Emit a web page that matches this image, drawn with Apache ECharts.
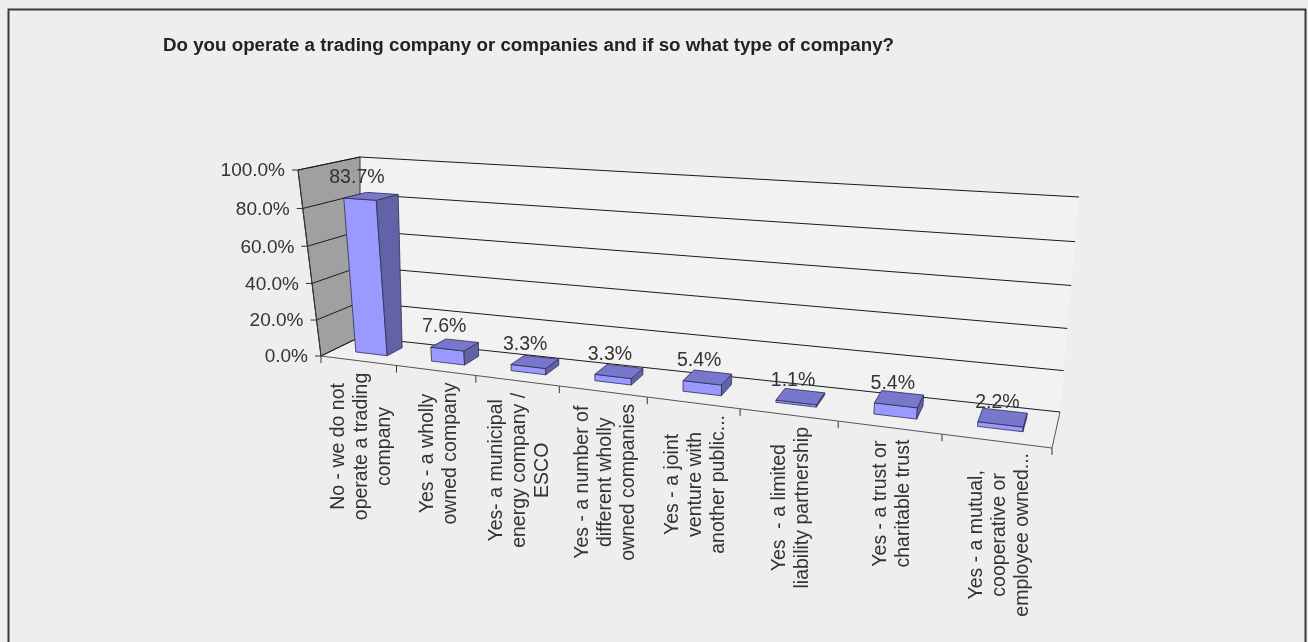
<!DOCTYPE html>
<html>
<head>
<meta charset="utf-8">
<script src="https://cdn.jsdelivr.net/npm/echarts@6/dist/echarts.min.js"></script>
<style>
  html, body { margin: 0; padding: 0; background: #eeeeee; }
  #chart { width: 1308px; height: 642px; }
</style>
</head>
<body>
<div id="chart"></div>
<script>
// ---- data ----
const title = 'Do you operate a trading company or companies and if so what type of company?';
const categories = [
  'No - we do not\noperate a trading\ncompany',
  'Yes - a wholly\nowned company',
  'Yes- a municipal\nenergy company /\nESCO',
  'Yes - a number of\ndifferent wholly\nowned companies',
  'Yes - a joint\nventure with\nanother public...',
  'Yes  - a limited\nliability partnership',
  'Yes - a trust or\ncharitable trust',
  'Yes - a mutual,\ncooperative or\nemployee owned...'
];
const values = [83.7, 7.6, 3.3, 3.3, 5.4, 1.1, 5.4, 2.2];
const valueTicks = [0, 20, 40, 60, 80, 100];
const tickLabels = ['0.0%', '20.0%', '40.0%', '60.0%', '80.0%', '100.0%'];

// ---- 3-D look ----
// Screen anchors of the plot box used to fit a perspective camera.
// Each entry: [X in category units, Y as axis fraction, Z (0 front, 1 back), screen x, screen y, weight]
const frameAnchors = [
  [0, 0, 0, 321, 356, 4], [0, 0, 1, 360, 337, 4], [0, 1, 0, 298, 170, 4], [0, 1, 1, 360, 157, 4],
  [8, 0, 0, 1052, 448, 4], [8, 0, 1, 1060, 412, 4], [8, 1, 1, 1079, 197, 4],
  [1, 0, 0, 397, 365.6, 1], [2, 0, 0, 474, 375.3, 1], [3, 0, 0, 558, 385.9, 1], [4, 0, 0, 645, 396.8, 1],
  [5, 0, 0, 738, 408.5, 1], [6, 0, 0, 836, 420.9, 1], [7, 0, 0, 941, 434.1, 1],
  [8, 0.2, 1, 1064, 371, 1], [8, 0.4, 1, 1068, 329, 1], [8, 0.6, 1, 1072, 287, 1], [8, 0.8, 1, 1076, 243, 1],
  [0, 0.2, 0, 316.4, 322, 1], [0, 0.4, 0, 311.8, 285, 1], [0, 0.6, 0, 307.2, 247, 1], [0, 0.8, 0, 302.6, 210, 1]
];
const BAR_HALF = 0.21;     // half bar width, category units
const BAR_Z0 = 0.33, BAR_Z1 = 0.73;
const FONT = '"Liberation Sans", Arial, sans-serif';
const TEXT = '#333333';

// Weighted least-squares fit of a 3x4 projective camera (DLT) to the anchors,
// followed by a trilinear correction so the box corners land exactly.
function fitCamera(pts, nCat) {
  const cu = 680, cv = 300, s = 400;
  const n = 11;
  const M = Array.from({ length: n }, () => new Array(n + 1).fill(0));
  const addRow = (row, rhs, w) => {
    for (let i = 0; i < n; i++) {
      for (let j = 0; j < n; j++) M[i][j] += w * row[i] * row[j];
      M[i][n] += w * row[i] * rhs;
    }
  };
  pts.forEach(([X, Y, Z, u, v, w]) => {
    const x = X / nCat, uu = (u - cu) / s, vv = (v - cv) / s;
    addRow([x, Y, Z, 1, 0, 0, 0, 0, -uu * x, -uu * Y, -uu * Z], uu, w);
    addRow([0, 0, 0, 0, x, Y, Z, 1, -vv * x, -vv * Y, -vv * Z], vv, w);
  });
  for (let c = 0; c < n; c++) {
    let p = c;
    for (let r = c + 1; r < n; r++) if (Math.abs(M[r][c]) > Math.abs(M[p][c])) p = r;
    [M[c], M[p]] = [M[p], M[c]];
    for (let r = 0; r < n; r++) {
      if (r === c) continue;
      const f = M[r][c] / M[c][c];
      for (let k = c; k <= n; k++) M[r][k] -= f * M[c][k];
    }
  }
  const q = M.map((row, i) => row[n] / row[i]);
  const cam = (X, Y, Z) => {
    const x = X / nCat;
    const w = q[8] * x + q[9] * Y + q[10] * Z + 1;
    return [
      (q[0] * x + q[1] * Y + q[2] * Z + q[3]) / w * s + cu,
      (q[4] * x + q[5] * Y + q[6] * Z + q[7]) / w * s + cv
    ];
  };
  // residuals at the box corners (index: x*4 + y*2 + z)
  const res = new Array(8).fill(null).map(() => [0, 0]);
  pts.forEach(([X, Y, Z, u, v]) => {
    const ix = X === 0 ? 0 : X === nCat ? 1 : -1;
    if (ix < 0 || (Y !== 0 && Y !== 1) || (Z !== 0 && Z !== 1)) return;
    const c = cam(X, Y, Z);
    res[ix * 4 + Y * 2 + Z] = [u - c[0], v - c[1]];
  });
  return (X, Y, Z) => {
    const c = cam(X, Y, Z);
    const tx = X / nCat;
    let du = 0, dv = 0;
    for (let k = 0; k < 8; k++) {
      const wx = (k >> 2) ? tx : 1 - tx;
      const wy = ((k >> 1) & 1) ? Y : 1 - Y;
      const wz = (k & 1) ? Z : 1 - Z;
      const w = wx * wy * wz;
      du += w * res[k][0];
      dv += w * res[k][1];
    }
    return [c[0] + du, c[1] + dv];
  };
}
const project = fitCamera(frameAnchors, categories.length);

// Text measuring for centring the rotated, multi-line category labels.
const measureCtx = document.createElement('canvas').getContext('2d');
function textWidth(str, font) {
  measureCtx.font = font;
  return measureCtx.measureText(str).width;
}

// Map a (category, value) pair through the flat grid's scales into box units.
function toBox(api, cs, cat, val) {
  const p = api.coord([cat, val]);
  const band = api.size([1, 0])[0];
  return [(p[0] - cs.x) / band, (cs.y + cs.height - p[1]) / cs.height];
}

function renderFrame(params, api) {
  const cs = params.coordSys;
  const n = categories.length;
  const P = project;
  const children = [];
  const poly = (pts, style) => ({ type: 'polygon', shape: { points: pts }, style });
  const seg = (a, b, style) => ({ type: 'line', shape: { x1: a[0], y1: a[1], x2: b[0], y2: b[1] }, style });

  // walls and floor
  children.push(poly([P(0, 0, 1), P(n, 0, 1), P(n, 1, 1), P(0, 1, 1)], { fill: '#f2f2f2' }));
  children.push(poly([P(0, 0, 0), P(n, 0, 0), P(n, 0, 1), P(0, 0, 1)], { fill: '#f0f0f0' }));
  children.push(poly([P(0, 0, 0), P(0, 0, 1), P(0, 1, 1), P(0, 1, 0)],
    { fill: '#a0a0a0', stroke: '#333', lineWidth: 1 }));

  // value gridlines, ticks and labels
  valueTicks.forEach((t, k) => {
    const Y = toBox(api, cs, 0, t)[1];
    const grid = { stroke: '#1a1a1a', lineWidth: 1 };
    children.push(seg(P(0, Y, 0), P(0, Y, 1), grid));
    children.push(seg(P(0, Y, 1), P(n, Y, 1), grid));
    const e = P(0, Y, 0);
    children.push(seg([e[0] - 6, e[1]], e, { stroke: '#333', lineWidth: 1 }));
    children.push({
      type: 'text', x: e[0] - 13, y: e[1] + 1,
      style: { text: tickLabels[k], fontSize: 19, fontFamily: FONT, fill: TEXT, align: 'right', verticalAlign: 'middle' }
    });
  });

  // floor edges
  const edge = { stroke: '#555', lineWidth: 1 };
  children.push(seg(P(0, 0, 0), P(n, 0, 0), edge));
  children.push(seg(P(n, 0, 0), P(n, 0, 1), edge));
  children.push(seg(P(0, 0, 0), P(0, 1, 0), { stroke: '#333', lineWidth: 1 }));

  // category ticks and labels
  const labelSize = 19.5;
  const labelFont = labelSize + 'px ' + FONT;
  for (let i = 0; i <= n; i++) {
    const X = i < n ? toBox(api, cs, i, 0)[0] - 0.5 : toBox(api, cs, n - 1, 0)[0] + 0.5;
    const a = P(X, 0, 0);
    children.push(seg(a, [a[0], a[1] + 7], { stroke: '#333', lineWidth: 1 }));
  }
  categories.forEach((label, i) => {
    const X = toBox(api, cs, i, 0)[0];
    const a = P(X, 0, 0);
    const maxW = Math.max(...label.split('\n').map(l => textWidth(l, labelFont)));
    children.push({
      type: 'text', x: a[0] + 3, y: a[1] + 12 + maxW / 2, rotation: Math.PI / 2,
      style: {
        text: label, fontSize: labelSize, fontFamily: FONT, fill: TEXT, lineHeight: 23,
        align: 'center', verticalAlign: 'middle'
      }
    });
  });
  return { type: 'group', children };
}

function renderBar(params, api) {
  const cs = params.coordSys;
  const i = api.value(0), v = api.value(1);
  const [Xc, Yt] = toBox(api, cs, i, v);
  const Yb = toBox(api, cs, i, 0)[1];
  const X0 = Xc - BAR_HALF, X1 = Xc + BAR_HALF;
  const P = project, z0 = BAR_Z0, z1 = BAR_Z1;
  const edge = { stroke: '#2f2f4f', lineWidth: 0.8, lineJoin: 'round' };
  const front = [P(X0, Yb, z0), P(X1, Yb, z0), P(X1, Yt, z0), P(X0, Yt, z0)];
  const side = [P(X1, Yb, z0), P(X1, Yb, z1), P(X1, Yt, z1), P(X1, Yt, z0)];
  const top = [P(X0, Yt, z0), P(X1, Yt, z0), P(X1, Yt, z1), P(X0, Yt, z1)];
  const anchor = P(Xc, Yt, z0);
  return {
    type: 'group',
    children: [
      { type: 'polygon', shape: { points: front }, style: Object.assign({ fill: '#9999ff' }, edge) },
      { type: 'polygon', shape: { points: side }, style: Object.assign({ fill: '#6262a8' }, edge) },
      { type: 'polygon', shape: { points: top }, style: Object.assign({ fill: '#7777cc' }, edge) },
      {
        type: 'text', x: anchor[0] - 3, y: anchor[1] - 22,
        style: { text: v.toFixed(1) + '%', fontSize: 19.5, fontFamily: FONT, fill: TEXT, align: 'center', verticalAlign: 'middle' }
      }
    ]
  };
}

const chart = echarts.init(document.getElementById('chart'), null, { renderer: 'canvas' });
const titleFont = 'bold 18px ' + FONT;
const titleScale = 731 / textWidth(title, titleFont);

chart.setOption({
  backgroundColor: '#eeeeee',
  animation: false,
  grid: { left: 100, top: 100, width: 800, height: 400, show: false },
  xAxis: { type: 'category', data: categories, show: false },
  yAxis: { type: 'value', min: 0, max: 100, interval: 20, show: false },
  graphic: [
    {
      type: 'rect', left: 6, top: 7, silent: true,
      shape: { width: 1297, height: 700 },
      style: { fill: 'none', stroke: '#3a3a3a', lineWidth: 2 }
    },
    {
      type: 'text', x: 163, y: 46, scaleX: titleScale, silent: true,
      style: { text: title, font: titleFont, fill: '#222', textAlign: 'left', textVerticalAlign: 'middle' }
    }
  ],
  series: [
    {
      type: 'custom', name: 'frame', silent: true, clip: false, z: 1,
      data: [[0, 0]], renderItem: renderFrame
    },
    {
      type: 'custom', name: 'share', silent: true, clip: false, z: 2,
      data: values.map((v, i) => [i, v]), renderItem: renderBar
    }
  ]
});
</script>
</body>
</html>
